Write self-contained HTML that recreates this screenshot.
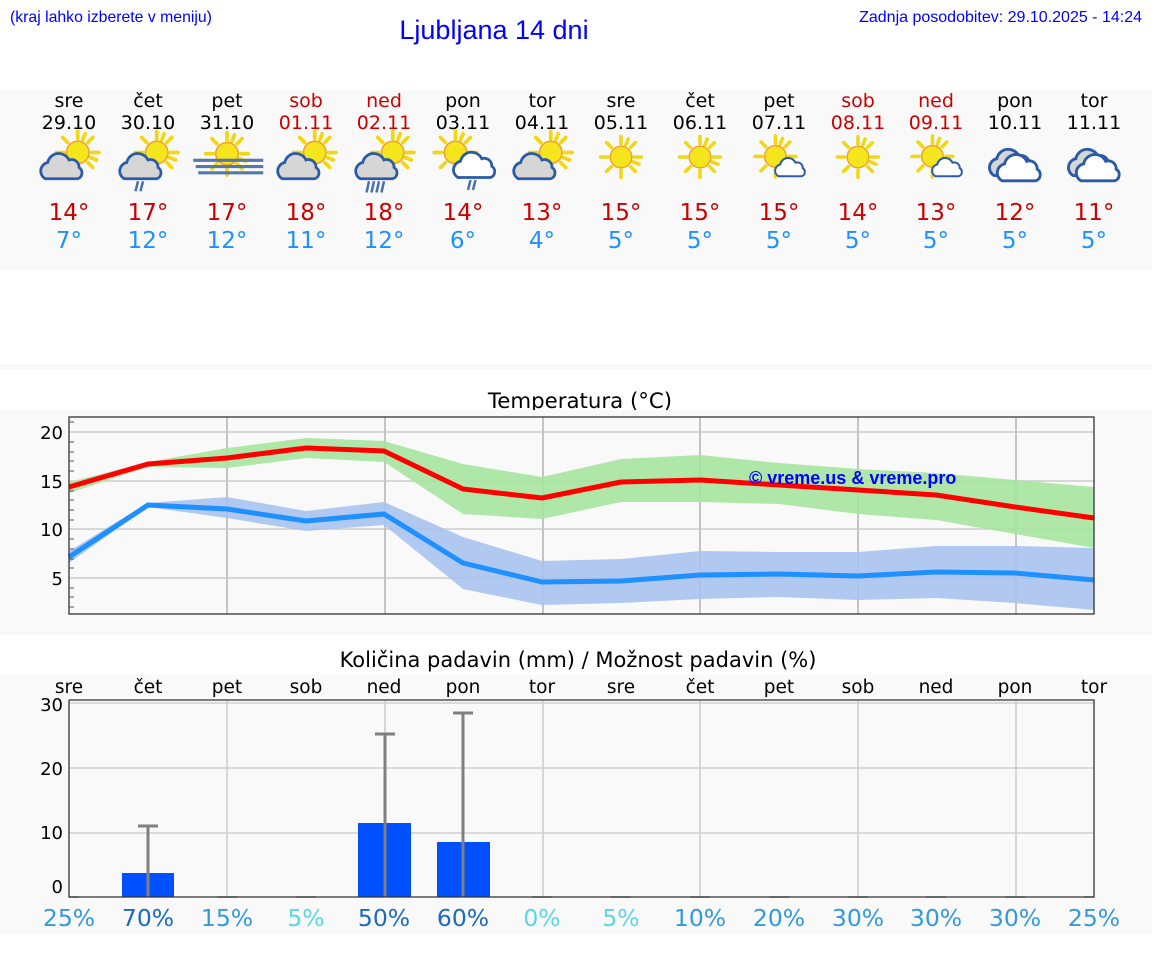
<!DOCTYPE html>
<html><head><meta charset="utf-8"><style>
html,body{margin:0;padding:0;background:#fff;width:1152px;height:975px;overflow:hidden}
svg{display:block}
.d{font-family:"DejaVu Sans",sans-serif;text-anchor:middle}
.h{font-family:"Liberation Sans",sans-serif;fill:#0000ff}
</style></head><body>
<svg width="1152" height="975" viewBox="0 0 1152 975" xmlns="http://www.w3.org/2000/svg">
<defs>
<g id="sun"><g stroke="#f2d814" stroke-width="3" stroke-linecap="round">
<line x1="0" y1="-11" x2="0" y2="-17"/><line x1="0" y1="11" x2="0" y2="17"/>
<line x1="-11" y1="0" x2="-17" y2="0"/><line x1="11" y1="0" x2="17" y2="0"/>
<line x1="8" y1="-8" x2="12" y2="-12"/><line x1="-8" y1="-8" x2="-12" y2="-12"/>
<line x1="8" y1="8" x2="12" y2="12"/><line x1="-8" y1="8" x2="-12" y2="12"/>
<line x1="4" y1="-10" x2="6" y2="-15"/><line x1="10" y1="4" x2="15" y2="6"/></g>
<circle r="9" fill="#f4e51c" stroke="#f0a030" stroke-width="1.2"/></g>
<path id="cl" d="M-14,10 a7,7 0 0 1 2,-13 a9,9 0 0 1 17,-2 a6,6 0 0 1 8,6 a5,5 0 0 1 -1,9 z" stroke="#2b5aa8" stroke-width="2.2"/>
<g id="sc"><use href="#sun" x="7" y="-6"/><use href="#cl" x="-5" y="5" fill="#d6d6d6"/></g>
<g id="sw"><use href="#sun" x="-3" y="-3"/><use href="#cl" x="10" y="6" fill="#fff" transform="translate(10,6) scale(0.75) translate(-10,-6)"/></g>
<g id="cc"><use href="#cl" x="-2" y="2" fill="#d6d6d6"/><use href="#cl" x="4" y="6" fill="#fff"/></g>
<g id="fog"><use href="#sun" x="0" y="-5"/><g fill="#5577aa"><rect x="-27" y="-1" width="56" height="2.5"/><rect x="-25" y="4" width="54" height="2.5"/><rect x="-23" y="9" width="52" height="2.5"/></g></g>
</defs>
<text class="h" x="10" y="22" font-size="15.8">(kraj lahko izberete v meniju)</text>
<text class="h" x="494" y="39" font-size="27" text-anchor="middle">Ljubljana 14 dni</text>
<text class="h" x="1142" y="22" font-size="16" text-anchor="end">Zadnja posodobitev: 29.10.2025 - 14:24</text>

<rect x="0" y="90" width="1152" height="180" fill="#f9f9f9"/>
<rect x="0" y="364" width="1152" height="5" fill="#f9f9f9"/>
<g class="d" font-size="19">
<g fill="#000"><text x="69" y="107">sre</text><text x="148" y="107">čet</text><text x="227" y="107">pet</text><text x="463" y="107">pon</text><text x="542" y="107">tor</text><text x="621" y="107">sre</text><text x="700" y="107">čet</text><text x="779" y="107">pet</text><text x="1015" y="107">pon</text><text x="1094" y="107">tor</text>
<text x="69" y="129">29.10</text><text x="148" y="129">30.10</text><text x="227" y="129">31.10</text><text x="463" y="129">03.11</text><text x="542" y="129">04.11</text><text x="621" y="129">05.11</text><text x="700" y="129">06.11</text><text x="779" y="129">07.11</text><text x="1015" y="129">10.11</text><text x="1094" y="129">11.11</text></g>
<g fill="#cc0000"><text x="306" y="107">sob</text><text x="384" y="107">ned</text><text x="858" y="107">sob</text><text x="936" y="107">ned</text>
<text x="306" y="129">01.11</text><text x="384" y="129">02.11</text><text x="858" y="129">08.11</text><text x="936" y="129">09.11</text></g>
<g fill="#cc0000" font-size="23"><text x="69" y="220">14°</text><text x="148" y="220">17°</text><text x="227" y="220">17°</text><text x="306" y="220">18°</text><text x="384" y="220">18°</text><text x="463" y="220">14°</text><text x="542" y="220">13°</text><text x="621" y="220">15°</text><text x="700" y="220">15°</text><text x="779" y="220">15°</text><text x="858" y="220">14°</text><text x="936" y="220">13°</text><text x="1015" y="220">12°</text><text x="1094" y="220">11°</text></g>
<g fill="#1e90ff" font-size="23"><text x="69" y="248">7°</text><text x="148" y="248">12°</text><text x="227" y="248">12°</text><text x="306" y="248">11°</text><text x="384" y="248">12°</text><text x="463" y="248">6°</text><text x="542" y="248">4°</text><text x="621" y="248">5°</text><text x="700" y="248">5°</text><text x="779" y="248">5°</text><text x="858" y="248">5°</text><text x="936" y="248">5°</text><text x="1015" y="248">5°</text><text x="1094" y="248">5°</text></g>
</g>
<!-- icons -->
<g transform="translate(69,160) scale(1.25)"><use href="#sc"/></g>
<g transform="translate(148,160) scale(1.25)"><use href="#sc"/><g stroke="#4a6fb0" stroke-width="2"><line x1="-8" y1="17" x2="-10" y2="25"/><line x1="-4" y1="17" x2="-6" y2="25"/></g></g>
<g transform="translate(227,160) scale(1.25)"><use href="#fog"/></g>
<g transform="translate(306,160) scale(1.25)"><use href="#sc"/></g>
<g transform="translate(384,160) scale(1.25)"><use href="#sc"/><g stroke="#4a6fb0" stroke-width="2"><line x1="-12" y1="17" x2="-14" y2="26"/><line x1="-8" y1="17" x2="-10" y2="26"/><line x1="-4" y1="17" x2="-6" y2="26"/><line x1="0" y1="17" x2="-2" y2="26"/></g></g>
<g transform="translate(463,160) scale(1.25)"><use href="#sun" x="-6" y="-6"/><use href="#cl" x="10" y="4" fill="#fff"/><g stroke="#4a6fb0" stroke-width="2"><line x1="6" y1="16" x2="4" y2="24"/><line x1="10" y1="16" x2="8" y2="24"/></g></g>
<g transform="translate(542,160) scale(1.25)"><use href="#sc"/></g>
<g transform="translate(621,157) scale(1.2)"><use href="#sun"/></g>
<g transform="translate(700,157) scale(1.2)"><use href="#sun"/></g>
<g transform="translate(779,160) scale(1.2)"><use href="#sw"/></g>
<g transform="translate(858,157) scale(1.2)"><use href="#sun"/></g>
<g transform="translate(936,160) scale(1.2)"><use href="#sw"/></g>
<g transform="translate(1015,160) scale(1.3)"><use href="#cc"/></g>
<g transform="translate(1094,160) scale(1.3)"><use href="#cc"/></g>

<!-- temperature -->
<text x="580" y="408" text-anchor="middle" fill="#000" font-size="21.3" font-family="DejaVu Sans, sans-serif">Temperatura (°C)</text>
<rect x="0" y="410" width="1152" height="225" fill="#f9f9f9"/>
<g stroke="#cccccc" stroke-width="1.5">
<line x1="69" y1="432" x2="1094" y2="432"/><line x1="69" y1="481" x2="1094" y2="481"/><line x1="69" y1="529" x2="1094" y2="529"/><line x1="69" y1="578" x2="1094" y2="578"/></g>
<g stroke="#c4c4c4" stroke-width="2">
<line x1="227" y1="417" x2="227" y2="614"/><line x1="385" y1="417" x2="385" y2="614"/><line x1="543" y1="417" x2="543" y2="614"/><line x1="700" y1="417" x2="700" y2="614"/><line x1="858" y1="417" x2="858" y2="614"/><line x1="1016" y1="417" x2="1016" y2="614"/></g>
<polygon fill="#a6e4a0" opacity="0.9" points="69,482 148,462 227,448 306,438 384,441 463,464 542,477 621,459 700,455 779,463 858,469 936,473 1015,480 1094,487 1094,548 1015,534 936,520 858,514 779,504 700,502 621,502 542,519 463,514 384,462 306,458 227,468 148,467 69,493"/>
<polygon fill="#a8c2f0" opacity="0.9" points="69,551 148,503 227,497 306,511 384,502 463,537 542,561 621,559 700,551 779,552 858,552 936,546 1015,546 1094,548 1094,610 1015,603 936,598 858,600 779,597 700,599 621,603 542,605 463,589 384,525 306,531 227,518 148,507 69,563"/>
<polyline fill="none" stroke="#ff0000" stroke-width="5" stroke-linejoin="round" points="69,487 148,464 227,458 306,448 384,451 463,489 542,498 621,482 700,480 779,485 858,490 936,495 1015,507 1094,518"/>
<polyline fill="none" stroke="#1e90ff" stroke-width="5" stroke-linejoin="round" points="69,557 148,505 227,509 306,521 384,514 463,563 542,582 621,581 700,575 779,574 858,576 936,572 1015,573 1094,580"/>
<text x="749" y="484" font-family="Liberation Sans, sans-serif" font-weight="bold" font-size="18" fill="#0000ff">© vreme.us &amp; vreme.pro</text>
<rect x="69" y="417" width="1025" height="197" fill="none" stroke="#333" stroke-width="1.3"/>
<g stroke="#555" stroke-width="1">
<line x1="69" y1="422" x2="74" y2="422"/><line x1="69" y1="442" x2="74" y2="442"/><line x1="69" y1="452" x2="74" y2="452"/><line x1="69" y1="461" x2="74" y2="461"/><line x1="69" y1="471" x2="74" y2="471"/><line x1="69" y1="491" x2="74" y2="491"/><line x1="69" y1="500" x2="74" y2="500"/><line x1="69" y1="510" x2="74" y2="510"/><line x1="69" y1="520" x2="74" y2="520"/><line x1="69" y1="539" x2="74" y2="539"/><line x1="69" y1="549" x2="74" y2="549"/><line x1="69" y1="559" x2="74" y2="559"/><line x1="69" y1="568" x2="74" y2="568"/><line x1="69" y1="588" x2="74" y2="588"/><line x1="69" y1="597" x2="74" y2="597"/><line x1="69" y1="607" x2="74" y2="607"/></g>
<g font-family="DejaVu Sans, sans-serif" font-size="18" fill="#000" text-anchor="end">
<text x="63" y="439">20</text><text x="63" y="488">15</text><text x="63" y="536">10</text><text x="63" y="585">5</text></g>

<!-- precipitation -->
<text x="578" y="667" fill="#000" font-size="21" text-anchor="middle" font-family="DejaVu Sans, sans-serif">Količina padavin (mm) / Možnost padavin (%)</text>
<rect x="0" y="675" width="1152" height="260" fill="#f9f9f9"/>
<g class="d" fill="#000" font-size="18.5"><text x="69" y="693">sre</text><text x="148" y="693">čet</text><text x="227" y="693">pet</text><text x="306" y="693">sob</text><text x="384" y="693">ned</text><text x="463" y="693">pon</text><text x="542" y="693">tor</text><text x="621" y="693">sre</text><text x="700" y="693">čet</text><text x="779" y="693">pet</text><text x="858" y="693">sob</text><text x="936" y="693">ned</text><text x="1015" y="693">pon</text><text x="1094" y="693">tor</text></g>
<g stroke="#d0d0d0" stroke-width="1.5"><line x1="69" y1="703" x2="1094" y2="703"/><line x1="69" y1="768" x2="1094" y2="768"/><line x1="69" y1="833" x2="1094" y2="833"/></g>
<g stroke="#cccccc" stroke-width="1.5"><line x1="227" y1="700" x2="227" y2="897"/><line x1="385" y1="700" x2="385" y2="897"/><line x1="543" y1="700" x2="543" y2="897"/><line x1="700" y1="700" x2="700" y2="897"/><line x1="858" y1="700" x2="858" y2="897"/><line x1="1016" y1="700" x2="1016" y2="897"/></g>
<g fill="#0050ff"><rect x="122" y="873" width="52" height="24"/><rect x="358" y="823" width="53" height="74"/><rect x="437" y="842" width="53" height="55"/></g>
<g stroke="#808080" stroke-width="3"><line x1="148" y1="826" x2="148" y2="897"/><line x1="138" y1="826" x2="158" y2="826"/>
<line x1="385" y1="734" x2="385" y2="897"/><line x1="375" y1="734" x2="395" y2="734"/>
<line x1="463" y1="713" x2="463" y2="897"/><line x1="453" y1="713" x2="473" y2="713"/>
<g stroke-width="1.5"><line x1="69" y1="897" x2="79" y2="897"/><line x1="217" y1="897" x2="237" y2="897"/><line x1="296" y1="897" x2="316" y2="897"/><line x1="532" y1="897" x2="552" y2="897"/><line x1="611" y1="897" x2="631" y2="897"/><line x1="690" y1="897" x2="710" y2="897"/><line x1="769" y1="897" x2="789" y2="897"/><line x1="848" y1="897" x2="868" y2="897"/><line x1="926" y1="897" x2="946" y2="897"/><line x1="1005" y1="897" x2="1025" y2="897"/><line x1="1084" y1="897" x2="1094" y2="897"/></g></g>
<polyline fill="none" stroke="#333" stroke-width="1.3" points="69,700 1094,700 1094,897 69,897 69,700"/>
<g font-family="DejaVu Sans, sans-serif" font-size="18" fill="#000" text-anchor="end">
<text x="63" y="711">30</text><text x="63" y="775">20</text><text x="63" y="839">10</text><text x="63" y="893">0</text></g>
<g class="d" font-size="23.5">
<text x="69" y="926" fill="#3399dd">25%</text><text x="148" y="926" fill="#1a6ac0">70%</text><text x="227" y="926" fill="#3399dd">15%</text><text x="306" y="926" fill="#5ad6e6">5%</text><text x="384" y="926" fill="#1a6ac0">50%</text><text x="463" y="926" fill="#1a6ac0">60%</text><text x="542" y="926" fill="#5ad6e6">0%</text><text x="621" y="926" fill="#5ad6e6">5%</text><text x="700" y="926" fill="#3399dd">10%</text><text x="779" y="926" fill="#3399dd">20%</text><text x="858" y="926" fill="#3399dd">30%</text><text x="936" y="926" fill="#3399dd">30%</text><text x="1015" y="926" fill="#3399dd">30%</text><text x="1094" y="926" fill="#3399dd">25%</text></g>
</svg>
</body></html>
